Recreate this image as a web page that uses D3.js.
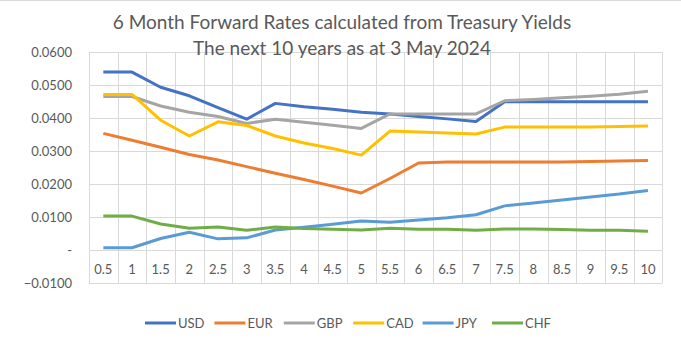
<!DOCTYPE html>
<html>
<head>
<meta charset="utf-8">
<script src="https://cdn.jsdelivr.net/npm/d3@7"></script>
<style>
  body { margin: 0; background: #fff; }
  svg { display: block; font-family: Lato, "Open Sans", sans-serif; }
</style>
</head>
<body>
<div id="chart"></div>
<script>
// tenor buckets in years
var tenors = ["0.5", "1", "1.5", "2", "2.5", "3", "3.5", "4", "4.5", "5",
              "5.5", "6", "6.5", "7", "7.5", "8", "8.5", "9", "9.5", "10"];

// forward rates per currency
var usd = [0.0540, 0.0540, 0.0494, 0.0468, 0.0432, 0.0397, 0.0445, 0.0435, 0.0427, 0.0418,
           0.0413, 0.0405, 0.0398, 0.0390, 0.0450, 0.0450, 0.0450, 0.0450, 0.0450, 0.0450];
var eur = [0.0354, 0.0333, 0.0312, 0.0290, 0.0273, 0.0253, 0.0233, 0.0214, 0.0194, 0.0173,
           0.0217, 0.0264, 0.0267, 0.0267, 0.0267, 0.0267, 0.0267, 0.0269, 0.0270, 0.0272];
var gbp = [0.0466, 0.0466, 0.0437, 0.0418, 0.0405, 0.0384, 0.0397, 0.0388, 0.0379, 0.0369,
           0.0413, 0.0413, 0.0413, 0.0413, 0.0453, 0.0457, 0.0462, 0.0467, 0.0473, 0.0482];
var cad = [0.0472, 0.0472, 0.0394, 0.0346, 0.0389, 0.0378, 0.0346, 0.0325, 0.0308, 0.0288,
           0.0361, 0.0358, 0.0355, 0.0352, 0.0373, 0.0373, 0.0373, 0.0373, 0.0375, 0.0376];
var jpy = [0.0007, 0.0007, 0.0035, 0.0054, 0.0034, 0.0037, 0.0061, 0.0069, 0.0078, 0.0088,
           0.0084, 0.0091, 0.0098, 0.0107, 0.0134, 0.0143, 0.0152, 0.0161, 0.0170, 0.0181];
var chf = [0.0103, 0.0103, 0.0079, 0.0066, 0.0070, 0.0060, 0.0070, 0.0065, 0.0063, 0.0061,
           0.0066, 0.0063, 0.0063, 0.0060, 0.0064, 0.0064, 0.0062, 0.0060, 0.0060, 0.0057];

var currencies = ["USD", "EUR", "GBP", "CAD", "JPY", "CHF"];
var colors = ["#4472C4", "#ED7D31", "#A5A5A5", "#FFC000", "#5B9BD5", "#70AD47"];
var yTicks = [-0.01, 0, 0.01, 0.02, 0.03, 0.04, 0.05, 0.06];

var series = [usd, eur, gbp, cad, jpy, chf].map(function(vals, i) {
  return { name: currencies[i], color: colors[i], values: vals };
});

var width = 681, height = 341;
var margin = {top: 52.3, right: 18.7, bottom: 58, left: 89};

var svg = d3.select("#chart").append("svg")
    .attr("width", width)
    .attr("height", height);

// chart frame, only the top edge shows
svg.append("line")
    .attr("x1", 0).attr("x2", width)
    .attr("y1", 0.5).attr("y2", 0.5)
    .attr("stroke", "#d9d9d9");

var x = d3.scaleBand()
    .domain(tenors)
    .range([margin.left, width - margin.right]);

var y = d3.scaleLinear()
    .domain([-0.01, 0.06])
    .range([height - margin.bottom, margin.top]);

// horizontal gridlines
svg.append("g")
  .selectAll("line")
  .data(yTicks)
  .join("line")
    .attr("x1", margin.left)
    .attr("x2", width - margin.right)
    .attr("y1", function(d) { return Math.round(y(d)) + 0.5; })
    .attr("y2", function(d) { return Math.round(y(d)) + 0.5; })
    .attr("stroke", "#d9d9d9");

// vertical gridlines on category boundaries
var bounds = tenors.map(function(t) { return x(t); }).concat([x.range()[1]]);
svg.append("g")
  .selectAll("line")
  .data(bounds)
  .join("line")
    .attr("x1", function(d) { return Math.round(d) + 0.5; })
    .attr("x2", function(d) { return Math.round(d) + 0.5; })
    .attr("y1", y(0.06))
    .attr("y2", y(-0.01))
    .attr("stroke", "#d9d9d9");

// y axis labels, zero shown as a dash
var fmt = d3.format(".4f");
svg.append("g")
  .selectAll("text")
  .data(yTicks)
  .join("text")
    .attr("x", 72)
    .attr("y", function(d) { return y(d) + 4.5; })
    .attr("text-anchor", "end")
    .attr("font-size", 13)
    .attr("fill", "#595959")
    .text(function(d) { return d === 0 ? "-" : fmt(d); });

// category labels sit under the zero line
svg.append("g")
  .selectAll("text")
  .data(tenors)
  .join("text")
    .attr("x", function(d) { return x(d) + x.bandwidth() / 2; })
    .attr("y", y(0) + 23.5)
    .attr("text-anchor", "middle")
    .attr("font-size", 13)
    .attr("fill", "#595959")
    .text(function(d) { return d; });

var line = d3.line()
    .x(function(d, i) { return x(tenors[i]) + x.bandwidth() / 2; })
    .y(function(d) { return y(d); });

svg.append("g")
  .selectAll("path")
  .data(series)
  .join("path")
    .attr("d", function(d) { return line(d.values); })
    .attr("fill", "none")
    .attr("stroke", function(d) { return d.color; })
    .attr("stroke-width", 3)
    .attr("stroke-linejoin", "round");

// title
var title = svg.append("text")
    .attr("text-anchor", "middle")
    .attr("font-size", 19)
    .attr("fill", "#595959");
title.append("tspan").attr("x", 342).attr("y", 29)
    .text("6 Month Forward Rates calculated from Treasury Yields");
title.append("tspan").attr("x", 342).attr("y", 55)
    .text("The next 10 years as at 3 May 2024");

// legend
var legend = svg.append("g")
  .selectAll("g")
  .data(series)
  .join("g")
    .attr("transform", function(d, i) { return "translate(" + (145 + i * 69.4) + ",323)"; });

legend.append("line")
    .attr("x1", 0).attr("x2", 31)
    .attr("stroke", function(d) { return d.color; })
    .attr("stroke-width", 3);

legend.append("text")
    .attr("x", 33)
    .attr("y", 4.5)
    .attr("font-size", 13)
    .attr("fill", "#595959")
    .text(function(d) { return d.name; });
</script>
</body>
</html>
